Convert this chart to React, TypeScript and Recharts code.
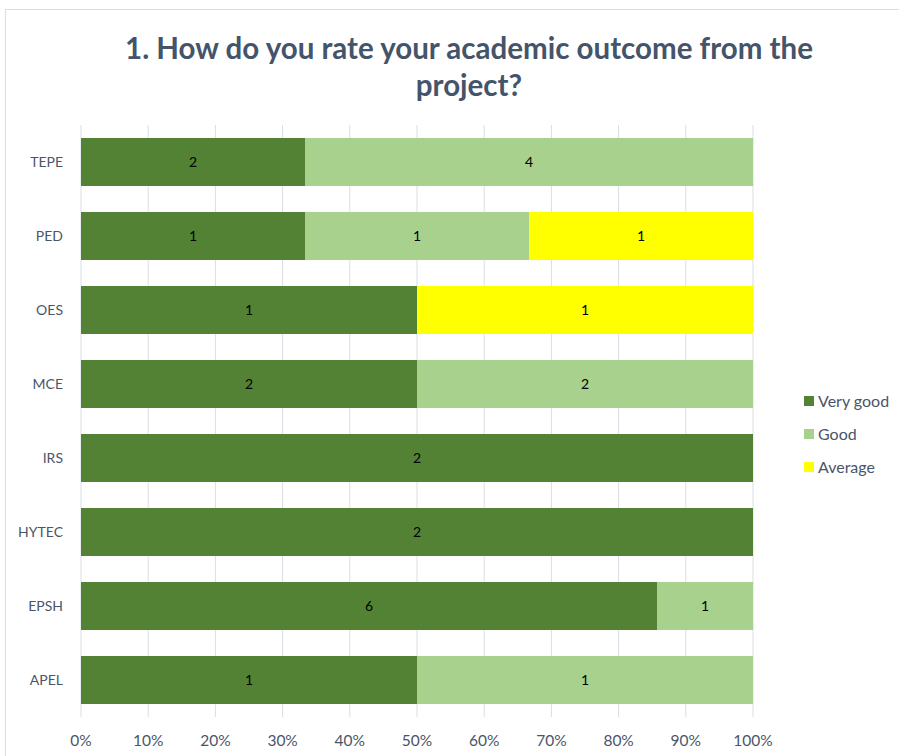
import { BarChart, Bar, XAxis, YAxis, CartesianGrid, LabelList } from "recharts"

const categories = ["TEPE", "PED", "OES", "MCE", "IRS", "HYTEC", "EPSH", "APEL"]
const veryGood = [2, 1, 1, 2, 2, 2, 6, 1]
const good = [4, 1, 0, 2, 0, 0, 1, 1]
const average = [0, 1, 1, 0, 0, 0, 0, 0]
const percentTicks = [0, 0.1, 0.2, 0.3, 0.4, 0.5, 0.6, 0.7, 0.8, 0.9, 1]

const series = [
  { key: "veryGood", name: "Very good", color: "#548235" },
  { key: "good", name: "Good", color: "#A9D18E" },
  { key: "average", name: "Average", color: "#FFFF00" },
]

const data = categories.map((name, i) => ({
  name,
  veryGood: veryGood[i],
  good: good[i],
  average: average[i],
}))

const font = "Lato, 'Open Sans', sans-serif"
const textColor = "#4B5568"

const hideZero = (v: any) => (v === 0 || v == null ? "" : v)

function LegendBox() {
  return (
    <div style={{ position: "absolute", left: 804, top: 384, fontFamily: font, fontSize: 16, color: textColor }}>
      {series.map((s) => (
        <div key={s.key} style={{ display: "flex", alignItems: "center", height: 33 }}>
          <span style={{ width: 10, height: 10, background: s.color, marginRight: 4, display: "inline-block" }} />
          <span>{s.name}</span>
        </div>
      ))}
    </div>
  )
}

export default function App() {
  return (
    <div style={{ position: "absolute", left: 0, top: 0, width: 899, height: 756, overflow: "hidden", background: "#fff" }}>
      <div
        style={{
          position: "absolute",
          left: 5,
          top: 9,
          width: 1000,
          height: 1000,
          border: "1px solid #D9DEE5",
        }}
      />
      <div
        style={{
          position: "absolute",
          left: 0,
          top: 29,
          width: 938,
          textAlign: "center",
          fontFamily: font,
          fontWeight: 700,
          fontSize: 29.5,
          lineHeight: "37px",
          color: "#44546A",
        }}
      >
        1. How do you rate your academic outcome from the
        <br />
        project?
      </div>
      <div style={{ position: "absolute", left: 0, top: 0 }}>
        <BarChart
          width={899}
          height={756}
          data={data}
          layout="vertical"
          stackOffset="expand"
          margin={{ top: 125, right: 146, left: 0, bottom: 0 }}
        >
          <CartesianGrid horizontal={false} stroke="#D9DEE5" />
          <XAxis
            type="number"
            domain={[0, 1]}
            ticks={percentTicks}
            tickFormatter={(v) => `${Math.round(v * 100)}%`}
            axisLine={false}
            tickLine={false}
            height={39}
            tickMargin={12}
            tick={{ fill: textColor, fontSize: 15.5, fontFamily: font }}
            interval={0}
          />
          <YAxis
            type="category"
            dataKey="name"
            width={81}
            axisLine={false}
            tickLine={false}
            tickMargin={12}
            tick={{ fill: textColor, fontSize: 14, fontFamily: font }}
            interval={0}
          />
          {series.map((s) => (
            <Bar key={s.key} dataKey={s.key} name={s.name} stackId="a" fill={s.color} barSize={48} isAnimationActive={false}>
              <LabelList
                dataKey={s.key}
                position="center"
                formatter={hideZero}
                fill="#000"
                fontSize={14}
                fontFamily={font}
              />
            </Bar>
          ))}
        </BarChart>
      </div>
      <LegendBox />
    </div>
  )
}
